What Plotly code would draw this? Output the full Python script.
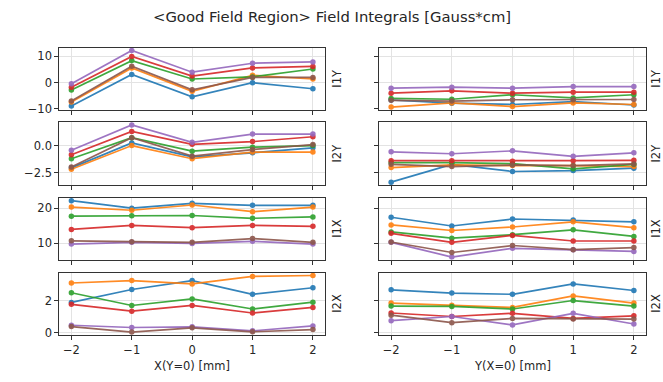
import plotly.graph_objects as go

positions = [-2, -1, 0, 1, 2]
x_titles = ["X(Y=0) [mm]", "Y(X=0) [mm]"]
row_labels = ["I1Y", "I2Y", "I1X", "I2X"]
title_text = "&lt;Good Field Region&gt; Field Integrals [Gauss*cm]"
colors = ["#1f77b4", "#ff7f0e", "#2ca02c", "#d62728", "#9467bd", "#8c564b"]

# series order: blue, orange, green, red, purple, brown
i1y_vs_x = [
    [-8.9, 3.1, -5.4, 0.0, -2.3],
    [-7.4, 5.6, -3.3, 2.8, 1.4],
    [-2.8, 8.4, 1.4, 2.2, 5.2],
    [-1.7, 10.0, 2.5, 5.6, 6.2],
    [-0.4, 12.3, 4.0, 7.4, 7.9],
    [-7.0, 6.3, -2.7, 2.0, 2.0],
]
i1y_vs_y = [
    [-6.6, -7.8, -8.3, -7.2, -8.5],
    [-9.3, -7.7, -9.1, -7.7, -8.3],
    [-6.0, -6.3, -4.6, -5.8, -4.6],
    [-4.0, -3.1, -4.0, -3.6, -3.6],
    [-2.1, -1.7, -2.1, -1.5, -1.5],
    [-6.7, -7.0, -6.5, -6.5, -6.4],
]
i2y_vs_x = [
    [-2.07, 0.24, -1.04, -0.67, -0.21],
    [-2.2, 0.0, -1.22, -0.6, -0.6],
    [-1.22, 0.73, -0.52, -0.15, 0.0],
    [-0.85, 1.31, 0.12, 0.37, 0.82],
    [-0.43, 1.92, 0.3, 1.07, 1.07],
    [-1.98, 0.73, -0.98, -0.37, 0.09],
]
i2y_vs_y = [
    [-3.4, -1.74, -2.41, -2.32, -2.1],
    [-2.04, -1.8, -1.86, -1.86, -1.95],
    [-1.58, -1.58, -1.68, -2.16, -1.74],
    [-1.4, -1.4, -1.46, -1.4, -1.37],
    [-0.58, -0.76, -0.49, -1.0, -0.67],
    [-1.74, -1.95, -1.8, -1.86, -1.7],
]
i1x_vs_x = [
    [22.15, 20.0, 21.4, 20.8, 20.8],
    [20.3, 19.4, 20.9, 19.0, 20.3],
    [17.7, 17.85, 17.9, 17.1, 17.5],
    [13.9, 15.05, 14.4, 15.05, 14.8],
    [9.7, 10.2, 9.9, 10.5, 9.7],
    [10.65, 10.4, 10.2, 11.3, 10.2],
]
i1x_vs_y = [
    [17.4, 14.9, 16.9, 16.6, 16.1],
    [15.2, 13.6, 14.6, 16.1, 14.4],
    [13.2, 11.4, 12.4, 13.8, 11.9],
    [12.8, 10.2, 12.2, 10.6, 10.6],
    [10.2, 6.0, 8.5, 8.1, 7.6],
    [10.3, 7.3, 9.3, 8.1, 8.7],
]
i2x_vs_x = [
    [1.9, 2.71, 3.27, 2.41, 2.82],
    [3.12, 3.27, 3.06, 3.53, 3.59],
    [2.51, 1.71, 2.12, 1.49, 1.92],
    [1.78, 1.35, 1.71, 1.24, 1.59],
    [0.47, 0.33, 0.37, 0.12, 0.43],
    [0.39, 0.04, 0.31, 0.06, 0.2],
]
i2x_vs_y = [
    [2.69, 2.49, 2.41, 3.06, 2.65],
    [1.86, 1.73, 1.59, 2.31, 1.86],
    [1.67, 1.65, 1.49, 2.02, 1.67],
    [1.24, 1.02, 1.22, 0.9, 1.06],
    [0.76, 1.02, 0.49, 1.22, 0.55],
    [1.1, 0.63, 0.9, 0.86, 0.86],
]

panels = [
    [i1y_vs_x, i1y_vs_y],
    [i2y_vs_x, i2y_vs_y],
    [i1x_vs_x, i1x_vs_y],
    [i2x_vs_x, i2x_vs_y],
]
row_dtick = [10, 2.5, 10, 2]
row_fmt = ["d", ".1f", "d", "d"]

W, H = 663, 382
col_px = [(59.3, 325.0), (379.0, 646.0)]
row_px = [(48.3, 111.7), (124.0, 188.0), (201.0, 264.0), (277.0, 340.3)]
label_px = [337, 656]

FONT = "DejaVu Sans"
TXT = "#262626"

fig = go.Figure()
layout = dict(
    width=W, height=H,
    margin=dict(l=0, r=0, t=0, b=0),
    paper_bgcolor="white", plot_bgcolor="white",
    showlegend=False,
    font=dict(family=FONT, size=11.5, color=TXT),
)
annotations = []

for r in range(4):
    allv = [v for c in range(2) for s in panels[r][c] for v in s]
    lo, hi = min(allv), max(allv)
    pad = 0.05 * (hi - lo)
    yrange = [lo - pad, hi + pad]
    for c in range(2):
        idx = r * 2 + c + 1
        xa = "x" if idx == 1 else f"x{idx}"
        ya = "y" if idx == 1 else f"y{idx}"
        for k, series in enumerate(panels[r][c]):
            fig.add_trace(go.Scatter(
                x=positions, y=series, mode="lines+markers",
                line=dict(color=colors[k], width=1.7),
                marker=dict(color=colors[k], size=5.5),
                opacity=0.9,
                xaxis=xa, yaxis=ya, hoverinfo="skip",
            ))
        x0, x1 = col_px[c]
        y0, y1 = row_px[r]
        axis_common = dict(
            showline=True, linecolor="#333333", linewidth=1, mirror=True,
            ticks="outside", ticklen=4, tickwidth=1, tickcolor="#333333",
            showgrid=True, gridcolor="#e3e3e3", gridwidth=1,
            zeroline=False,
            tickfont=dict(family=FONT, size=11.5, color=TXT),
        )
        layout["xaxis" if idx == 1 else f"xaxis{idx}"] = dict(
            axis_common,
            domain=[x0 / W, x1 / W],
            anchor=ya,
            range=[-2.2, 2.2],
            tickmode="linear", tick0=-2, dtick=1,
            showticklabels=(r == 3),
        )
        layout["yaxis" if idx == 1 else f"yaxis{idx}"] = dict(
            axis_common,
            domain=[1 - y1 / H, 1 - y0 / H],
            anchor=xa,
            range=yrange,
            tickmode="linear", tick0=0, dtick=row_dtick[r],
            tickformat=row_fmt[r],
            showticklabels=(c == 0),
        )
        annotations.append(dict(
            text=row_labels[r], x=label_px[c] / W, y=1 - (y0 + y1) / 2 / H,
            xref="paper", yref="paper", showarrow=False, textangle=-90,
            xanchor="center", yanchor="middle", borderpad=0,
            font=dict(family=FONT, size=11.5, color=TXT),
        ))

for c in range(2):
    x0, x1 = col_px[c]
    annotations.append(dict(
        text=x_titles[c], x=(x0 + x1) / 2 / W, y=1 - 372 / H,
        xref="paper", yref="paper", showarrow=False,
        xanchor="center", yanchor="middle",
        font=dict(family=FONT, size=11.5, color=TXT),
    ))

annotations.append(dict(
    text=title_text, x=0.5, y=1 - 17 / H, xref="paper", yref="paper",
    showarrow=False, xanchor="center", yanchor="middle",
    font=dict(family=FONT, size=14.8, color=TXT),
))

layout["annotations"] = annotations
fig.update_layout(**layout)
fig.write_html(
    "out.html",
    config={"displayModeBar": False},
    post_script="document.body.style.margin='0px';document.body.style.padding='0px';",
)
